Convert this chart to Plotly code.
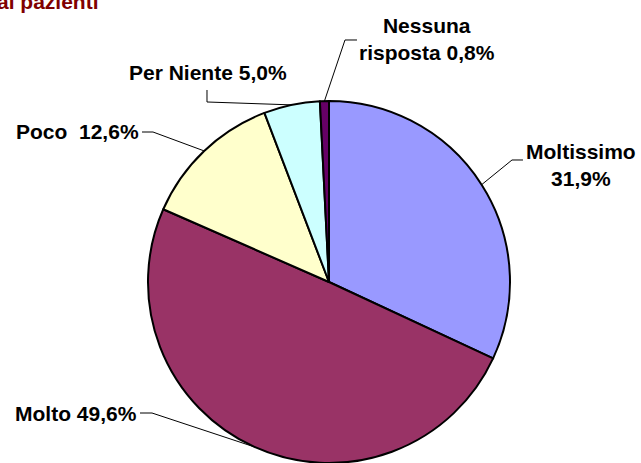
import math
import plotly.graph_objects as go

# Survey answers and their shares (%)
categories = ["Moltissimo", "Molto", "Poco", "Per Niente", "Nessuna risposta"]
values = [31.9, 49.6, 12.6, 5.0, 0.8]
label_texts = ["Moltissimo<br>31,9%", "Molto 49,6%", "Poco  12,6%", "Per Niente 5,0%", "Nessuna<br>risposta 0,8%"]
colors = ["#9999FF", "#993366", "#FFFFCC", "#CCFFFF", "#660066"]

W, H = 641, 463
R = 181          # pie radius in px
CX = 329         # pie centre x in px
CY = H - R       # pie centre y in px (from top)


def px(x):
    return x / W


def py(y):
    return 1 - y / H


fig = go.Figure(go.Pie(
    labels=categories,
    values=values,
    sort=False,
    direction="clockwise",
    rotation=0,
    marker=dict(colors=colors, line=dict(color="black", width=2)),
    textinfo="none",
    hoverinfo="label+percent",
    domain=dict(x=[px(CX - R), px(CX + R)], y=[0, 2 * R / H]),
    showlegend=False,
))

# Mid-angle of each slice (clockwise from 12 o'clock) -> anchor point on the rim
total = sum(values)
anchors = []
acc = 0.0
for v in values:
    mid = (acc + v / 2) / total * 2 * math.pi
    anchors.append((CX + R * math.sin(mid), CY - R * math.cos(mid)))
    acc += v

# Label placement (px): text centre, text anchor, and the elbow of the leader line
label_pos = [
    dict(x=581, y=165, xanchor="center", elbow=[(523, 160), (512, 160)]),
    dict(x=13, y=413, xanchor="left", elbow=[(140, 413), (152, 413)]),
    dict(x=14, y=131, xanchor="left", elbow=[(142, 132), (153, 132)]),
    dict(x=127, y=72, xanchor="left", elbow=[(207, 90), (207, 102)]),
    dict(x=427, y=39, xanchor="center", elbow=[(357, 40), (345, 40)]),
]

shapes = []
annotations = []
for txt, pos, (ax, ay) in zip(label_texts, label_pos, anchors):
    pts = pos["elbow"] + [(ax, ay)]
    path = "M " + " L ".join(f"{px(x):.5f},{py(y):.5f}" for x, y in pts)
    shapes.append(dict(type="path", path=path, xref="paper", yref="paper",
                       line=dict(color="black", width=1)))
    annotations.append(dict(
        text=f"<b>{txt}</b>", x=px(pos["x"]), y=py(pos["y"]),
        xref="paper", yref="paper", xanchor=pos["xanchor"], yanchor="middle",
        align="center", showarrow=False,
        font=dict(family="Arial, Liberation Sans, sans-serif", size=21, color="black"),
    ))

# Chart title (top-left, running off the top edge of the canvas)
annotations.append(dict(
    text="<b>ai pazienti</b>", x=px(101), y=py(15), xref="paper", yref="paper",
    xanchor="right", yanchor="bottom", showarrow=False,
    font=dict(family="Arial, Liberation Sans, sans-serif", size=21, color="#800000"),
))

fig.update_layout(
    width=W, height=H,
    margin=dict(l=0, r=0, t=0, b=0),
    paper_bgcolor="white", plot_bgcolor="white",
    shapes=shapes, annotations=annotations,
)

fig.write_html("out.html")
